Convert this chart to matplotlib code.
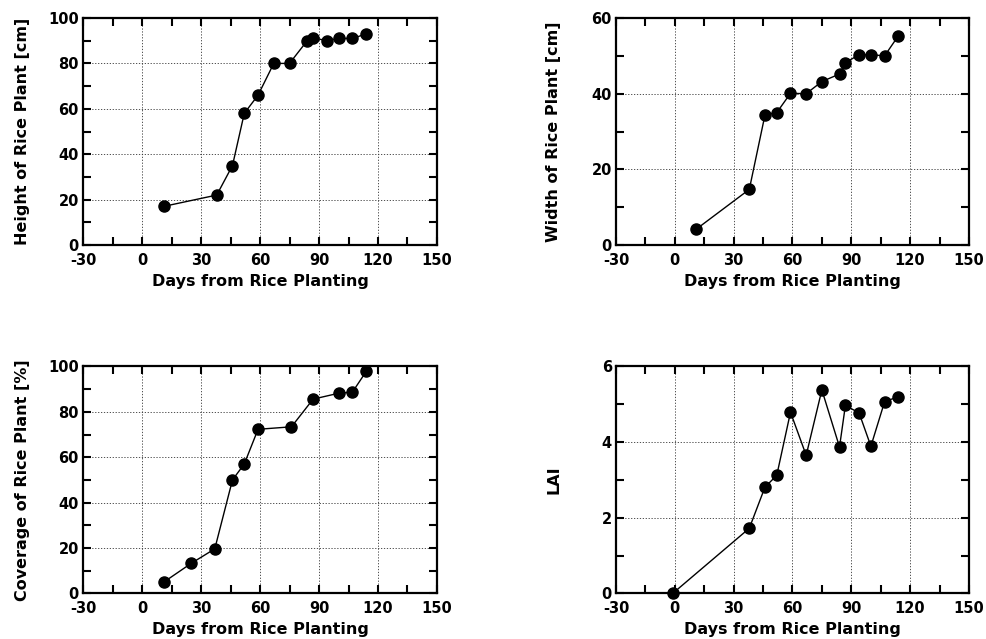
import matplotlib
matplotlib.use('Agg')
import matplotlib.pyplot as plt
from matplotlib.ticker import MultipleLocator

# days after planting
days_height = [11, 38, 46, 52, 59, 67, 75, 84, 87, 94, 100, 107, 114]
height = [17, 22, 35, 58, 66, 80, 80, 90, 91.3, 90, 91, 91, 93]

days_width = [11, 38, 46, 52, 59, 67, 75, 84, 87, 94, 100, 107, 114]
width = [4.2, 14.7, 34.4, 35, 40.1, 40, 43.2, 45.2, 48.2, 50.3, 50.3, 50, 55.3]

days_cover = [11, 25, 37, 46, 52, 59, 76, 87, 100, 107, 114]
coverage = [4.9, 13.2, 19.6, 50, 57, 72.3, 73.4, 85.6, 88.2, 88.7, 97.8]

days_lai = [-1, 38, 46, 52, 59, 67, 75, 84, 87, 94, 100, 107, 114]
lai = [0, 1.72, 2.81, 3.12, 4.79, 3.65, 5.38, 3.87, 4.97, 4.77, 3.89, 5.07, 5.2]

xlabel = 'Days from Rice Planting'

panels = [
    (days_height, height, 'Height of Rice Plant [cm]', 100, 20, 10),
    (days_width, width, 'Width of Rice Plant [cm]', 60, 20, 10),
    (days_cover, coverage, 'Coverage of Rice Plant [%]', 100, 20, 10),
    (days_lai, lai, 'LAI', 6, 2, 1),
]

# axes boxes in figure fractions [left, bottom, width, height]
boxes = [
    [0.0842, 0.6166, 0.359, 0.3552],
    [0.6247, 0.6166, 0.358, 0.3552],
    [0.0842, 0.0715, 0.359, 0.3550],
    [0.6247, 0.0715, 0.358, 0.3550],
]
ylab_x = [-0.149, -0.155, -0.149, -0.155]

plt.rcParams['font.family'] = 'DejaVu Sans'
plt.rcParams['font.weight'] = 'bold'
plt.rcParams['axes.unicode_minus'] = False

fig = plt.figure(figsize=(9.86, 6.39), dpi=100)

for (x, y, ylab, ymax, ymaj, ymin), box, lx in zip(panels, boxes, ylab_x):
    ax = fig.add_axes(box)
    ax.plot(x, y, '-', color='black', lw=1.0, marker='o', ms=8,
            mfc='black', mec='black', zorder=3, clip_on=False)
    ax.set_xlim(-30, 150)
    ax.set_ylim(0, ymax)
    ax.xaxis.set_major_locator(MultipleLocator(30))
    ax.xaxis.set_minor_locator(MultipleLocator(15))
    ax.yaxis.set_major_locator(MultipleLocator(ymaj))
    ax.yaxis.set_minor_locator(MultipleLocator(ymin))
    ax.grid(True, which='major', color='#333333', ls=(0, (1.5, 2)), lw=0.6)
    ax.tick_params(which='both', direction='in', top=True, right=True,
                   length=6, width=1.5, labelsize=10.5)
    ax.tick_params(axis='x', pad=5.5)
    ax.tick_params(axis='y', pad=3)
    for sp in ax.spines.values():
        sp.set_linewidth(1.6)
    for lab in ax.get_xticklabels() + ax.get_yticklabels():
        lab.set_fontweight('bold')
    ax.set_xlabel(xlabel, fontsize=11.5, fontweight='bold', labelpad=4.5)
    ax.set_ylabel(ylab, fontsize=11.5, fontweight='bold')
    ax.yaxis.set_label_coords(lx, 0.5)

fig.savefig('out.png', dpi=100)
